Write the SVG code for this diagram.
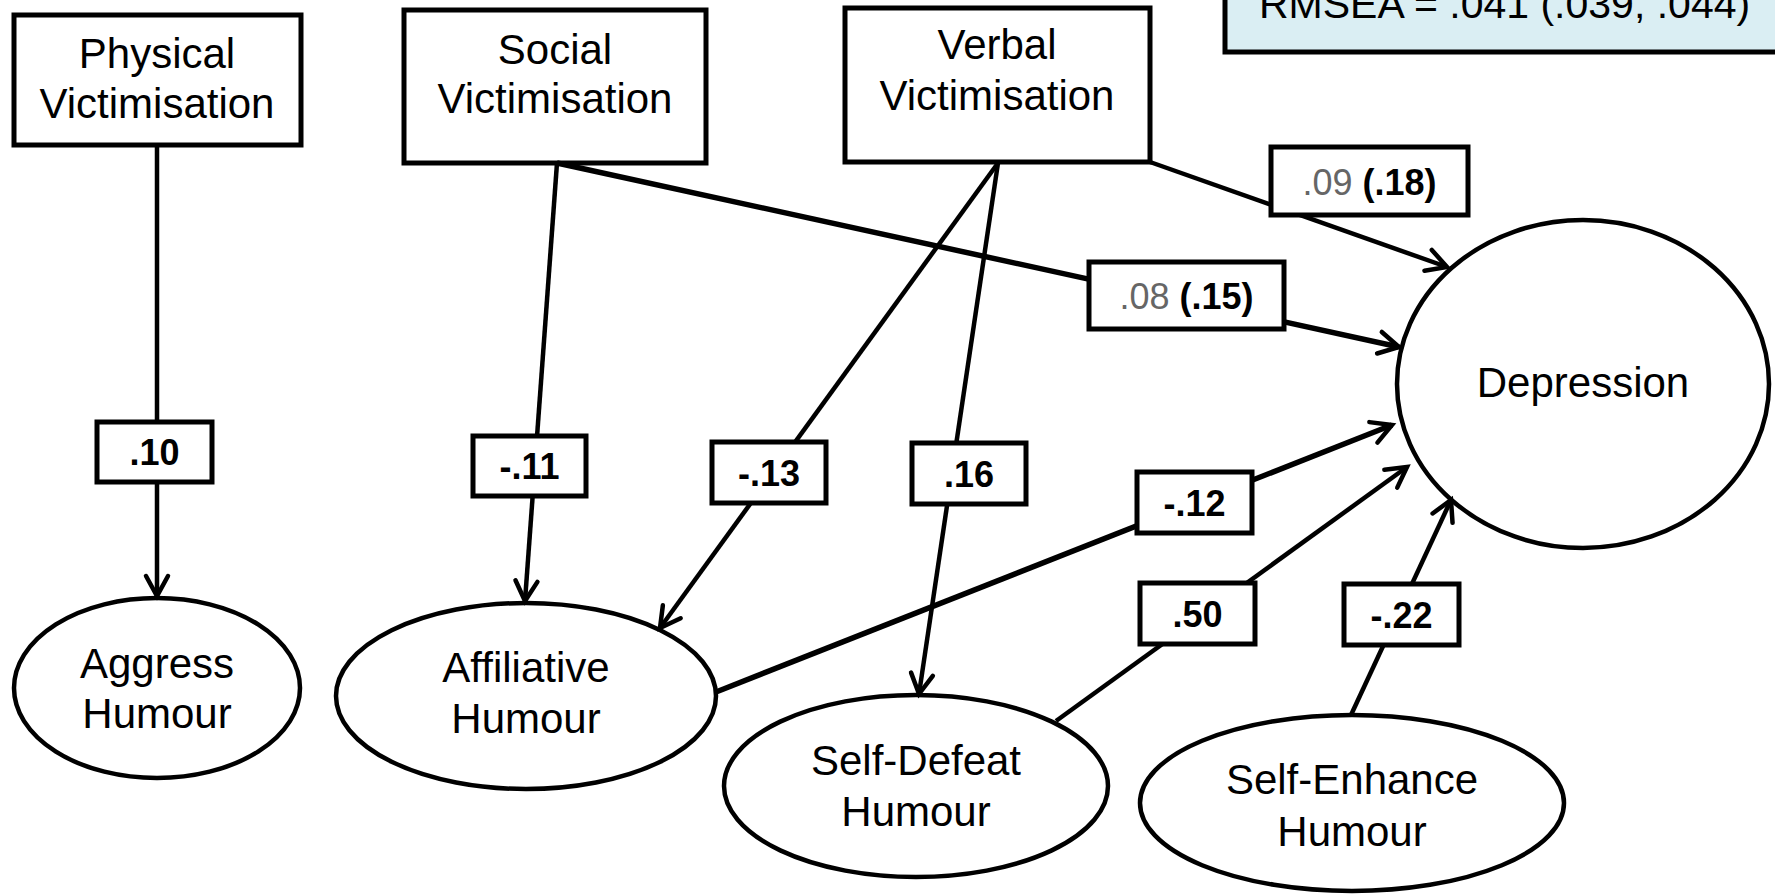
<svg xmlns="http://www.w3.org/2000/svg" width="1775" height="894" viewBox="0 0 1775 894">
<style>
.node{fill:#fff;stroke:#000;stroke-width:5}
.ell{fill:#fff;stroke:#000;stroke-width:4.5}
.t{font-family:"Liberation Sans",Arial,sans-serif;font-size:42px;fill:#000;text-anchor:middle}
.c{fill:none;stroke:#000;stroke-width:4.5;marker-end:url(#arr)}
.w{stroke-width:5.5}
.lb{fill:#fff;stroke:#000;stroke-width:5}
.lt{font-family:"Liberation Sans",Arial,sans-serif;font-size:36px;font-weight:bold;fill:#000;text-anchor:middle}
.g{font-weight:normal;fill:#666}
</style>
<defs>
<marker id="arr" markerUnits="userSpaceOnUse" markerWidth="40" markerHeight="40" viewBox="-25 -20 30 40" refX="0" refY="0" orient="auto">
<path d="M-20,-11 L0,0 L-20,11" fill="none" stroke="#000" stroke-width="4.5" stroke-linecap="round" stroke-linejoin="miter"/>
</marker>
</defs>
<rect x="0" y="0" width="1775" height="894" fill="#fff"/>

<g id="fit">
<rect x="1225" y="-30" width="600" height="82" fill="#daeef3" stroke="#000" stroke-width="5"/>
<text x="1259" y="18" font-family="Liberation Sans, Arial, sans-serif" font-size="41" fill="#000">RMSEA = .041 (.039, .044)</text>
</g>

<g id="physical">
<rect class="node" x="14" y="15" width="287" height="130"/>
<text class="t" x="157" y="68">Physical</text>
<text class="t" x="157" y="118">Victimisation</text>
</g>
<g id="social">
<rect class="node" x="404" y="10" width="302" height="153"/>
<text class="t" x="555" y="64">Social</text>
<text class="t" x="555" y="113">Victimisation</text>
</g>
<g id="verbal">
<rect class="node" x="845" y="8" width="305" height="154"/>
<text class="t" x="997" y="59">Verbal</text>
<text class="t" x="997" y="110">Victimisation</text>
</g>
<g id="depression">
<ellipse class="ell" cx="1583" cy="384" rx="186" ry="164"/>
<text class="t" x="1583" y="397">Depression</text>
</g>
<g id="aggress">
<ellipse class="ell" cx="157" cy="688" rx="143" ry="90"/>
<text class="t" x="157" y="678">Aggress</text>
<text class="t" x="157" y="728">Humour</text>
</g>
<g id="affiliative">
<ellipse class="ell" cx="526" cy="696" rx="190" ry="93"/>
<text class="t" x="526" y="682">Affiliative</text>
<text class="t" x="526" y="733">Humour</text>
</g>
<g id="selfdefeat">
<ellipse class="ell" cx="916" cy="786" rx="192" ry="91"/>
<text class="t" x="916" y="775">Self-Defeat</text>
<text class="t" x="916" y="826">Humour</text>
</g>
<g id="selfenhance">
<ellipse class="ell" cx="1352" cy="803" rx="212" ry="88"/>
<text class="t" x="1352" y="794">Self-Enhance</text>
<text class="t" x="1352" y="846">Humour</text>
</g>

<g id="connectors">
<line class="c" x1="157" y1="145" x2="157" y2="596"/>
<line class="c" x1="557" y1="163" x2="525" y2="601"/>
<line class="c w" x1="557" y1="163" x2="1399" y2="347"/>
<line class="c" x1="1150" y1="162" x2="1447" y2="267"/>
<line class="c" x1="998" y1="163" x2="660" y2="628"/>
<line class="c" x1="998" y1="163" x2="919" y2="694"/>
<line class="c w" x1="716" y1="692" x2="1392" y2="425"/>
<line class="c" x1="1056" y1="721" x2="1407" y2="467"/>
<line class="c" x1="1351" y1="715" x2="1451" y2="500"/>
</g>

<g id="labels">
<g id="l-phys"><rect class="lb" x="97" y="422" width="115" height="60"/><text class="lt" x="154.5" y="465">.10</text></g>
<g id="l-soc-aff"><rect class="lb" x="473" y="436" width="113" height="60"/><text class="lt" x="529.5" y="479">-.11</text></g>
<g id="l-verb-aff"><rect class="lb" x="712" y="442" width="114" height="61"/><text class="lt" x="769" y="486">-.13</text></g>
<g id="l-verb-sd"><rect class="lb" x="912" y="443" width="114" height="61"/><text class="lt" x="969" y="487">.16</text></g>
<g id="l-aff-dep"><rect class="lb" x="1137" y="472" width="115" height="61"/><text class="lt" x="1194.5" y="516">-.12</text></g>
<g id="l-sd-dep"><rect class="lb" x="1140" y="583" width="115" height="61"/><text class="lt" x="1197.5" y="627">.50</text></g>
<g id="l-se-dep"><rect class="lb" x="1344" y="584" width="115" height="61"/><text class="lt" x="1401.5" y="628">-.22</text></g>
<g id="l-verb-dep"><rect class="lb" x="1271" y="147" width="197" height="68"/><text class="lt" x="1369.5" y="195"><tspan class="g">.09</tspan> (.18)</text></g>
<g id="l-soc-dep"><rect class="lb" x="1089" y="262" width="195" height="67"/><text class="lt" x="1186.5" y="309"><tspan class="g">.08</tspan> (.15)</text></g>
</g>
</svg>
